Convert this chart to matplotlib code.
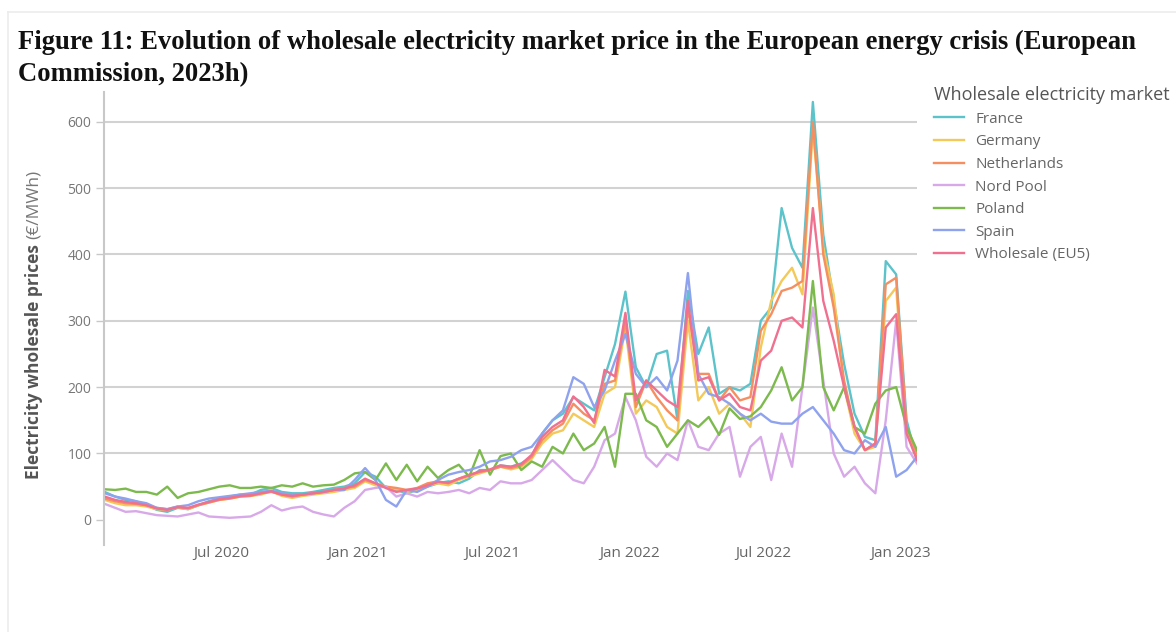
import matplotlib.pyplot as plt
import matplotlib.dates as mdates
import numpy as np
from matplotlib.lines import Line2D

plt.rcParams['font.family'] = ['Open Sans', 'DejaVu Sans']

# fortnightly sampling of the weekly wholesale prices (EUR/MWh)
dates = np.arange('2020-01-27', '2023-01-24', 14, dtype='datetime64[D]')

france = [42, 35, 30, 28, 22, 15, 12, 18, 16, 22,
          28, 32, 35, 38, 38, 45, 48, 42, 40, 40,
          42, 45, 48, 50, 55, 72, 65, 48, 45, 40,
          45, 50, 55, 58, 55, 62, 75, 75, 82, 80,
          85, 95, 130, 150, 160, 185, 175, 165, 215, 265,
          344, 230, 200, 250, 255, 150, 345, 250, 290, 190,
          200, 195, 205, 300, 320, 470, 410, 380, 630, 430,
          330, 235, 160, 125, 120, 390, 370, 150, 90]
germany = [30, 25, 22, 22, 20, 16, 15, 19, 16, 22,
           26, 30, 32, 35, 36, 38, 43, 36, 33, 36,
           38, 40, 42, 45, 48, 58, 52, 50, 46, 42,
           45, 52, 55, 52, 60, 65, 70, 75, 80, 76,
           80, 92, 115, 130, 135, 160, 150, 140, 190, 200,
           290, 160, 180, 170, 140, 130, 300, 180, 200, 160,
           175, 160, 140, 260, 330, 360, 380, 340, 590, 410,
           340, 200, 130, 105, 110, 330, 350, 130, 100]
netherlands = [32, 28, 25, 24, 22, 18, 16, 20, 17, 22,
               26, 30, 32, 35, 36, 40, 42, 38, 35, 38,
               40, 42, 45, 48, 50, 60, 55, 50, 48, 45,
               48, 55, 58, 55, 62, 68, 72, 75, 80, 78,
               82, 95, 120, 135, 145, 175, 160, 150, 205, 210,
               300, 170, 210, 185, 165, 150, 320, 220, 220, 180,
               200, 180, 185, 285, 310, 345, 350, 360, 600, 400,
               320, 210, 140, 105, 115, 355, 365, 140, 100]
nord_pool = [24, 18, 12, 13, 10, 7, 6, 5, 8, 11,
             5, 4, 3, 4, 5, 12, 22, 14, 18, 20,
             12, 8, 5, 18, 28, 45, 48, 50, 35, 40,
             35, 42, 40, 42, 45, 40, 48, 45, 58, 55,
             55, 60, 75, 90, 75, 60, 55, 80, 120, 130,
             185, 150, 95, 80, 100, 90, 150, 110, 105, 130,
             140, 65, 110, 125, 60, 130, 80, 200, 320, 210,
             100, 65, 80, 55, 40, 150, 300, 110, 85]
poland = [46, 45, 47, 42, 42, 38, 50, 33, 40, 42,
          46, 50, 52, 48, 48, 50, 48, 52, 50, 55,
          50, 52, 53, 60, 70, 72, 60, 85, 60, 83,
          58, 80, 63, 75, 83, 65, 105, 68, 96, 100,
          75, 88, 80, 110, 100, 130, 105, 115, 140, 80,
          190, 190, 150, 140, 110, 130, 150, 140, 155, 128,
          168, 152, 156, 170, 195, 230, 180, 200, 360, 200,
          165, 200, 140, 130, 175, 195, 200, 140, 105]
spain = [40, 35, 32, 28, 25, 18, 16, 20, 22, 28,
         32, 34, 36, 38, 40, 42, 44, 40, 38, 38,
         40, 42, 45, 45, 60, 78, 60, 30, 20, 45,
         42, 50, 60, 68, 72, 75, 80, 88, 90, 95,
         105, 110, 130, 150, 165, 215, 205, 170, 195, 240,
         280, 220, 200, 215, 195, 240, 372, 220, 190, 185,
         175, 160, 150, 160, 148, 145, 145, 160, 170, 150,
         130, 105, 100, 120, 110, 140, 65, 75, 95]
eu5 = [35, 30, 27, 25, 22, 17, 15, 19, 18, 23,
       27, 31, 33, 36, 37, 40, 43, 38, 36, 38,
       40, 42, 45, 47, 52, 62, 55, 48, 42, 45,
       47, 52, 57, 56, 62, 67, 73, 76, 82, 80,
       84, 98, 125, 140, 150, 186, 170, 146, 226, 216,
       312, 180, 210, 195, 180, 170, 330, 210, 215, 180,
       190, 170, 165, 240, 255, 300, 305, 290, 470, 330,
       270, 200, 140, 105, 115, 290, 310, 130, 90]

names = ['France', 'Germany', 'Netherlands', 'Nord Pool', 'Poland', 'Spain', 'Wholesale (EU5)']
values = [france, germany, netherlands, nord_pool, poland, spain, eu5]
colors = ['#5cc3cb', '#f3c95a', '#f58f62', '#d8a9e8', '#7dba4e', '#8fa2ee', '#f0708f']
yticks = [0, 100, 200, 300, 400, 500, 600]

W, H = 1176, 632
fig = plt.figure(figsize=(W / 100, H / 100), dpi=100)
ax = fig.add_axes([104 / W, 1 - 545 / H, (917 - 104) / W, (545 - 92) / H])

for name, vals, col in zip(names, values, colors):
    ax.plot(dates, vals, color=col, lw=1.7, label=name)

ax.set_xlim(np.datetime64('2020-01-26'), np.datetime64('2023-01-23'))
ax.set_ylim(-38, 645)
ax.set_yticks(yticks)
ax.yaxis.grid(True, color='#d2d2d2', lw=1.5)
ax.get_ygridlines()[0].set_visible(False)
ax.set_axisbelow(True)
for s in ['top', 'right', 'bottom']:
    ax.spines[s].set_visible(False)
ax.spines['left'].set_color('#c8c8c8')
ax.spines['left'].set_linewidth(1.5)

ax.xaxis.set_major_locator(mdates.MonthLocator(bymonth=[1, 7]))
ax.xaxis.set_major_formatter(mdates.DateFormatter('%b %Y'))
ax.tick_params(axis='x', length=0, pad=1, labelsize=11, labelcolor='#666666')
ax.tick_params(axis='y', length=6, width=1, color='#c8c8c8', pad=3,
               labelsize=10, labelcolor='#777777')

# y axis title: bold part plus lighter unit part
yl = fig.text(34 / W, 1 - 479 / H, 'Electricity wholesale prices', rotation=90,
              rotation_mode='anchor', ha='left', va='center', fontsize=12.5,
              fontweight='bold', color='#555555')
fig.canvas.draw()
bb = yl.get_window_extent()
fig.text(34 / W, (bb.y1 + 5) / H, '(€/MWh)', rotation=90, rotation_mode='anchor',
         ha='left', va='center', fontsize=12.5, color='#777777')

# figure caption
fig.text(18 / W, 1 - 49 / H,
         'Figure 11: Evolution of wholesale electricity market price in the European energy crisis (European',
         family='Liberation Serif', fontweight='bold', fontsize=19.2, va='baseline', color='#111111')
fig.text(18 / W, 1 - 81 / H, 'Commission, 2023h)',
         family='Liberation Serif', fontweight='bold', fontsize=19.2, va='baseline', color='#111111')

leg = fig.legend(loc='upper left', bbox_to_anchor=(934 / W, 1 - 86 / H), frameon=False,
                 title='Wholesale electricity market', title_fontsize=13, fontsize=11,
                 handlelength=1.95, handletextpad=0.75, labelspacing=0.5,
                 borderpad=0, borderaxespad=0, alignment='left')
leg.get_title().set_color('#555555')
for t in leg.get_texts():
    t.set_color('#666666')

# faint page frame
fig.add_artist(Line2D([8 / W, 8 / W], [0, 1 - 12 / H], transform=fig.transFigure,
                      color='#ececec', lw=1.2))
fig.add_artist(Line2D([8 / W, 1], [1 - 12 / H, 1 - 12 / H], transform=fig.transFigure,
                      color='#ececec', lw=1.2))

fig.savefig('out.png', dpi=100)
